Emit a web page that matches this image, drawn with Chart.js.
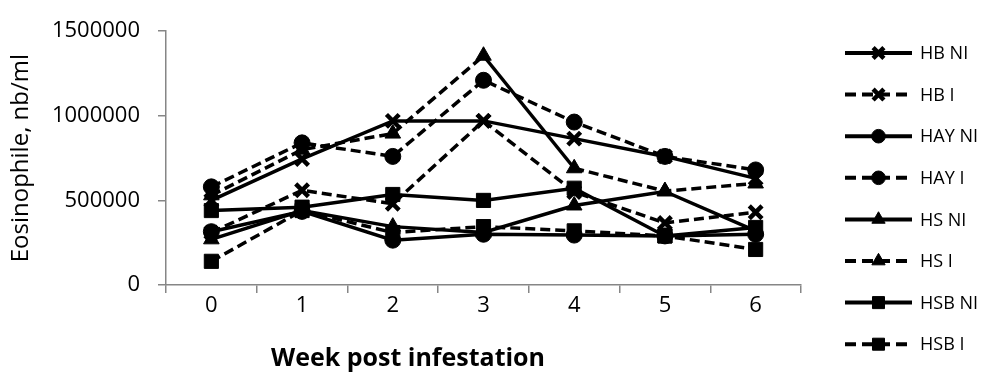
<!DOCTYPE html>
<html>
<head>
<meta charset="utf-8">
<script src="https://cdn.jsdelivr.net/npm/chart.js@4.4.1/dist/chart.umd.min.js"></script>
<style>
  html, body { margin: 0; padding: 0; background: #fff; }
  #wrap { width: 984px; height: 376px; }
</style>
</head>
<body>
<div id="wrap"><canvas id="myChart" width="984" height="376"></canvas></div>
<script>
// weeks post infestation
const weeks = ['0', '1', '2', '3', '4', '5', '6'];

// eosinophile counts (nb/ml)
const hbNI  = [500000, 745000, 970000, 970000, 865000, 760000, 630000];
const hbI   = [310000, 560000, 480000, 970000, 550000, 367000, 430000];
const hayNI = [315000, 435000, 265000, 300000, 295000, 290000, 300000];
const hayI  = [580000, 840000, 760000, 1210000, 963000, 760000, 680000];
const hsNI  = [270000, 440000, 345000, 310000, 470000, 553000, 320000];
const hsI   = [530000, 800000, 895000, 1355000, 690000, 555000, 600000];
const hsbNI = [440000, 460000, 535000, 500000, 572000, 290000, 340000];
const hsbI  = [140000, 440000, 310000, 345000, 320000, 290000, 210000];

const yTicks = [0, 500000, 1000000, 1500000];
const xTitle = 'Week post infestation';

const FONT = "'Open Sans', 'DejaVu Sans', sans-serif";
const DASH = [10, 5];

function series(label, data, style, dashed) {
  const r = style === 'circle' ? 8 : style === 'crossRot' ? 9 : style === 'triangle' ? 9 : 10;
  return {
    label: label,
    data: data,
    borderColor: '#000',
    backgroundColor: '#000',
    borderWidth: 3.5,
    borderDash: dashed ? DASH : [],
    pointStyle: style,
    pointRadius: r,
    pointHoverRadius: r,
    pointBorderWidth: style === 'crossRot' ? 4.5 : 1,
    pointBackgroundColor: '#000',
    pointBorderColor: '#000',
    tension: 0,
    fill: false
  };
}

const hsIset = series('HS I', hsI, 'triangle', true);
// segment week 3 -> 4 is drawn solid in the original
hsIset.segment = { borderDash: c => c.p0DataIndex === 3 ? [] : undefined };

const datasets = [
  series('HB NI', hbNI, 'crossRot', false),
  series('HB I', hbI, 'crossRot', true),
  series('HAY NI', hayNI, 'circle', false),
  series('HAY I', hayI, 'circle', true),
  series('HS NI', hsNI, 'triangle', false),
  hsIset,
  series('HSB NI', hsbNI, 'rect', false),
  series('HSB I', hsbI, 'rect', true)
];

// legend drawn as line + marker like the original, plus the x title
const lineLegend = {
  id: 'lineLegend',
  afterDraw(chart) {
    const ctx = chart.ctx;
    const x0 = 845, x1 = 912, top = 53, step = 41.6;
    chart.data.datasets.forEach((ds, i) => {
      const y = top + i * step;
      ctx.save();
      ctx.strokeStyle = '#000';
      ctx.lineWidth = 4;
      ctx.setLineDash(ds.borderDash.length ? [11, 6] : []);
      ctx.beginPath();
      ctx.moveTo(x0, y);
      ctx.lineTo(x1, y);
      ctx.stroke();
      ctx.setLineDash([]);
      ctx.fillStyle = '#000';
      ctx.lineWidth = ds.pointBorderWidth;
      Chart.helpers.drawPoint(ctx, {
        pointStyle: ds.pointStyle,
        radius: ds.pointRadius * 0.85,
        rotation: 0,
        borderWidth: ds.pointBorderWidth
      }, (x0 + x1) / 2, y);
      ctx.font = '18px ' + FONT;
      ctx.textBaseline = 'middle';
      ctx.fillText(ds.label, 920, y + 1);
      ctx.restore();
    });
    // axis title sits left of the plot centre in the original
    ctx.save();
    ctx.fillStyle = '#000';
    ctx.font = 'bold 25px ' + FONT;
    ctx.textAlign = 'center';
    ctx.textBaseline = 'middle';
    ctx.fillText(xTitle, 408, 359);
    ctx.restore();
  }
};

const ctx = document.getElementById('myChart').getContext('2d');
const myChart = new Chart(ctx, {
  type: 'line',
  data: { labels: weeks, datasets: datasets },
  plugins: [lineLegend],
  options: {
    responsive: false,
    animation: false,
    layout: { padding: { top: 19, right: 183, left: 0, bottom: 0 } },
    plugins: {
      legend: { display: false },
      tooltip: { enabled: false }
    },
    scales: {
      x: {
        type: 'category',
        offset: true,
        afterFit: s => { s.height = 91; },
        grid: {
          offset: true,
          drawOnChartArea: false,
          drawTicks: true,
          tickLength: 8,
          color: '#868686',
          lineWidth: 1.5
        },
        border: { color: '#868686', width: 1.5 },
        ticks: { color: '#000', font: { family: FONT, size: 22 }, padding: 0 }
      },
      y: {
        min: 0,
        max: 1500000,
        afterFit: s => { s.width = 166; },
        afterBuildTicks: s => { s.ticks = yTicks.map(v => ({ value: v })); },
        grid: {
          drawOnChartArea: false,
          drawTicks: true,
          tickLength: 8,
          color: '#868686',
          lineWidth: 1.5
        },
        border: { color: '#868686', width: 1.5 },
        ticks: {
          color: '#000',
          font: { family: FONT, size: 22 },
          padding: 18,
          callback: v => String(v)
        },
        title: {
          display: true,
          text: 'Eosinophile, nb/ml',
          color: '#000',
          font: { family: FONT, size: 24 },
          padding: { top: 7, bottom: 0 }
        }
      }
    }
  }
});
</script>
</body>
</html>
